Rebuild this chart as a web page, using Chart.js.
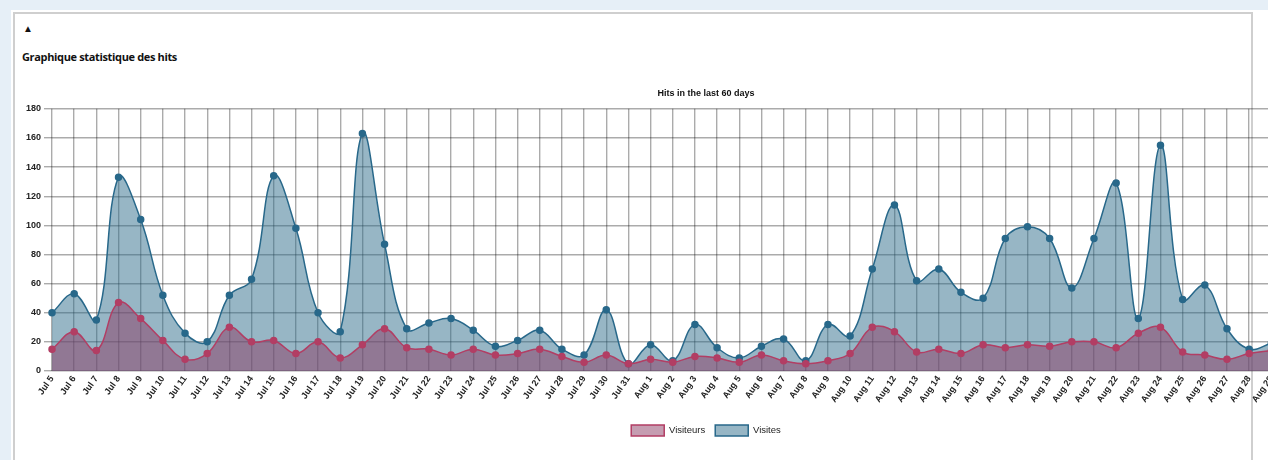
<!DOCTYPE html>
<html>
<head>
<meta charset="utf-8">
<title>Graphique statistique des hits</title>
<script src="https://cdn.jsdelivr.net/npm/chart.js@4.4.0/dist/chart.umd.min.js"></script>
<style>
  html, body { margin: 0; padding: 0; }
  body { width: 1268px; height: 460px; overflow: hidden; background: #e6eff7; position: relative; font-family: "Open Sans", sans-serif; }
  #sheet { position: absolute; left: 11px; top: 10px; right: 0; bottom: 0; background: #fff; }
  #panel { position: absolute; left: 13px; top: 12px; width: 1240px; height: 470px; border: 2px solid #cfcfcf; box-sizing: border-box; }
  #toggle { position: absolute; left: 23px; top: 21px; font-size: 10px; color: #111; }
  #heading { position: absolute; left: 22px; top: 49px; font-size: 11px; font-weight: bold; color: #111; letter-spacing: -0.35px; }
  #chartBox { position: absolute; left: 22px; top: 84px; width: 1370px; height: 362px; z-index: 2; }
</style>
</head>
<body>
<div id="sheet"></div>
<div id="panel"></div>
<div id="toggle">&#9650;</div>
<div id="heading">Graphique statistique des hits</div>
<div id="chartBox"><canvas id="hits"></canvas></div>

<script>
const days = [
  "Jul 5", "Jul 6", "Jul 7", "Jul 8", "Jul 9", "Jul 10", "Jul 11", "Jul 12", "Jul 13", "Jul 14",
  "Jul 15", "Jul 16", "Jul 17", "Jul 18", "Jul 19", "Jul 20", "Jul 21", "Jul 22", "Jul 23", "Jul 24",
  "Jul 25", "Jul 26", "Jul 27", "Jul 28", "Jul 29", "Jul 30", "Jul 31", "Aug 1", "Aug 2", "Aug 3",
  "Aug 4", "Aug 5", "Aug 6", "Aug 7", "Aug 8", "Aug 9", "Aug 10", "Aug 11", "Aug 12", "Aug 13",
  "Aug 14", "Aug 15", "Aug 16", "Aug 17", "Aug 18", "Aug 19", "Aug 20", "Aug 21", "Aug 22", "Aug 23",
  "Aug 24", "Aug 25", "Aug 26", "Aug 27", "Aug 28", "Aug 29", "Aug 30", "Aug 31", "Sep 1", "Sep 2"
];

// the last days are cut off in the screenshot, so they stay empty
const visiteurs = [
  15, 27, 14, 47, 36, 21, 8, 12, 30, 20,
  21, 12, 20, 9, 18, 29, 16, 15, 11, 15,
  11, 12, 15, 10, 6, 11, 5, 8, 6, 10,
  9, 6, 11, 7, 5, 7, 12, 30, 27, 13,
  15, 12, 18, 16, 18, 17, 20, 20, 16, 26,
  30, 13, 11, 8, 12, 14, null, null, null, null
];

const visites = [
  40, 53, 35, 133, 104, 52, 26, 20, 52, 63,
  134, 98, 40, 27, 163, 87, 29, 33, 36, 28,
  17, 21, 28, 15, 11, 42, 5, 18, 7, 32,
  16, 9, 17, 22, 7, 32, 24, 70, 114, 62,
  70, 54, 50, 91, 99, 91, 57, 91, 129, 36,
  155, 49, 59, 29, 15, 19, null, null, null, null
];

const yTicks = [0, 20, 40, 60, 80, 100, 120, 140, 160, 180];

const ctx = document.getElementById("hits").getContext("2d");
const hitsChart = new Chart(ctx, {
  type: "line",
  data: {
    labels: days,
    datasets: [
      {
        label: "Visiteurs",
        data: visiteurs,
        borderColor: "rgba(178, 62, 100, 1)",
        backgroundColor: "rgba(140, 60, 100, 0.5)",
        pointBackgroundColor: "rgba(178, 62, 100, 1)",
        pointBorderColor: "rgba(178, 62, 100, 1)",
        borderWidth: 1.5,
        pointRadius: 3,
        tension: 0.4,
        fill: "origin",
      },
      {
        label: "Visites",
        data: visites,
        borderColor: "rgba(40, 104, 138, 1)",
        backgroundColor: "rgba(47, 110, 140, 0.5)",
        pointBackgroundColor: "rgba(40, 104, 138, 1)",
        pointBorderColor: "rgba(40, 104, 138, 1)",
        borderWidth: 1.5,
        pointRadius: 3,
        tension: 0.4,
        fill: "origin",
      },
    ],
  },
  options: {
    responsive: true,
    maintainAspectRatio: false,
    animation: false,
    layout: { padding: { left: 1, right: 32, top: 0, bottom: 0 } },
    plugins: {
      title: {
        display: true,
        fullSize: false,
        text: "Hits in the last 60 days",
        color: "#111",
        font: { family: "Liberation Sans", size: 9, weight: "bold" },
        padding: { top: 4, bottom: 10 },
      },
      legend: {
        position: "bottom",
        fullSize: false,
        labels: {
          boxWidth: 33,
          boxHeight: 11,
          color: "#222",
          font: { family: "Liberation Sans", size: 9.5 },
          padding: 10,
        },
      },
      tooltip: { enabled: false },
    },
    scales: {
      x: {
        grid: { color: "rgba(0, 0, 0, 0.33)", lineWidth: 1.4, drawTicks: false },
        border: { display: false },
        afterFit: function (axis) {
          axis.height = 44;
        },
        ticks: {
          autoSkip: false,
          minRotation: 55,
          maxRotation: 55,
          padding: 3,
          color: "#222",
          font: { family: "Liberation Sans", size: 9, weight: "bold" },
        },
      },
      y: {
        min: 0,
        max: 180,
        afterBuildTicks: function (axis) {
          axis.ticks = yTicks.map(function (v) { return { value: v }; });
        },
        grid: { color: "rgba(0, 0, 0, 0.33)", lineWidth: 1.4, tickLength: 8 },
        border: { display: false },
        ticks: {
          padding: 3,
          color: "#222",
          font: { family: "Liberation Sans", size: 9, weight: "bold" },
        },
      },
    },
  },
});
</script>
</body>
</html>
